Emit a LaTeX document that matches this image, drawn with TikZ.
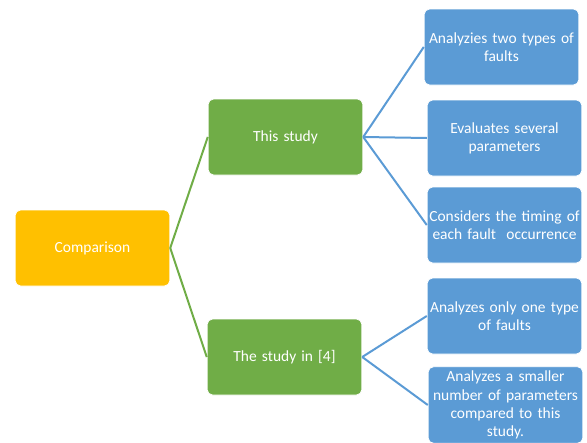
\documentclass[tikz,border=0pt]{standalone}
\usepackage{fontspec}
\setmainfont{Carlito}
\definecolor{boxorange}{HTML}{FFC000}
\definecolor{boxgreen}{HTML}{70AD47}
\definecolor{boxblue}{HTML}{5B9BD5}
\tikzset{
  card/.style={rectangle, rounded corners=4pt, draw=white, line width=0.6pt,
    minimum width=116pt, minimum height=57pt, inner xsep=0pt, text width=116pt,
    align=center, text=white, font=\fontsize{11.6}{13.6}\selectfont},
  link/.style={line width=1.5pt}
}
\begin{document}
\begin{tikzpicture}[x=0.75pt,y=-0.75pt]
\useasboundingbox (0,0) rectangle (587,443);
\node[card, fill=boxorange] (comp) at (92.5,248) {Comparison};
\node[card, fill=boxgreen] (this) at (285.5,137) {This study};
\node[card, fill=boxgreen] (ref) at (284.5,357) {The study in [4]};
\node[card, fill=boxblue] (a1) at (501.5,47) {Analyzies two types of\\faults};
\node[card, fill=boxblue] (a2) at (504.5,138) {Evaluates several\\parameters};
\node[card, fill=boxblue] (a3) at (504.5,225) {Considers the timing of\\each fault~ occurrence};
\node[card, fill=boxblue] (b1) at (504.5,316) {Analyzes only one type\\of faults};
\node[card, fill=boxblue] (b2) at (505.5,405) {Analyzes a smaller\\number of parameters\\compared to this\\study.};
\foreach \s in {this,ref}
   \draw[link, boxgreen] (comp.east) -- (\s.west);
\foreach \t in {a1,a2,a3}
   \draw[link, boxblue] (this.east) -- (\t.west);
\foreach \t in {b1,b2}
   \draw[link, boxblue] (ref.east) -- (\t.west);
\end{tikzpicture}
\end{document}
